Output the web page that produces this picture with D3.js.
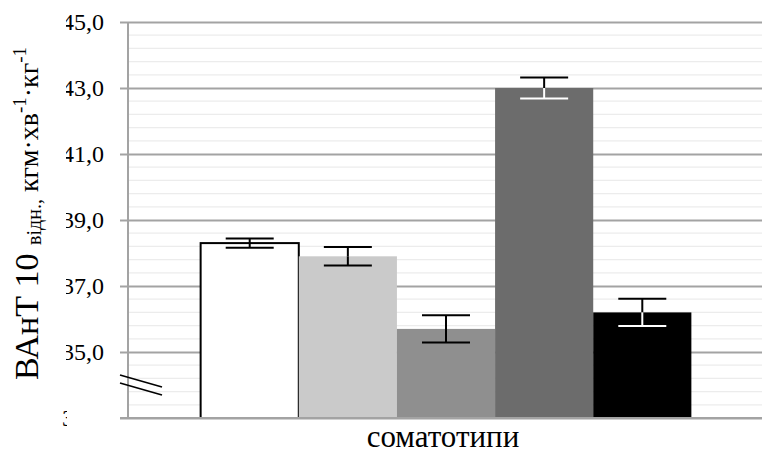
<!DOCTYPE html>
<html>
<head>
<meta charset="utf-8">
<script src="https://cdn.jsdelivr.net/npm/d3@7"></script>
<style>
  html, body { margin: 0; padding: 0; background: #fff; }
  svg { display: block; }
</style>
</head>
<body>
<svg id="chart" width="762" height="450"></svg>
<script>
// Category and series
const categories = ["соматотипи"];
const groups = ["I", "II", "III", "IV", "V"];
// Mean values and their errors (кгм·хв⁻¹·кг⁻¹)
const values = [38.3, 37.9, 35.7, 43.0, 36.2];
const errors = [0.14, 0.28, 0.41, 0.32, 0.41];
// Y axis
const yDomain = [33, 45];
const majorTicks = [33, 35, 37, 39, 41, 43, 45];

// Bar styles
const barFills = ["#ffffff", "#cacaca", "#8f8f8f", "#6c6c6c", "#000000"];

const W = 762, H = 450;
const margin = { top: 22, right: -2, bottom: 32, left: 128 };
const svg = d3.select("#chart");
const gridColor = "#a3a3a3";
const serif = "'Liberation Serif', 'Times New Roman', serif";

const y = d3.scaleLinear().domain(yDomain).range([H - margin.bottom, margin.top]);
const x0 = d3.scaleBand().domain(categories).range([margin.left, W - margin.right]);
const x1 = d3.scaleBand().domain(groups).range([0, x0.bandwidth()])
  .paddingInner(0).paddingOuter(0.74);

// Minor grid every 0.4
const minorTicks = d3.range(yDomain[0], yDomain[1] + 1e-9, 0.4)
  .filter(v => !majorTicks.some(m => Math.abs(m - v) < 1e-6));
svg.append("g").selectAll("line").data(minorTicks).join("line")
  .attr("x1", margin.left).attr("x2", W - margin.right)
  .attr("y1", d => y(d)).attr("y2", d => y(d))
  .attr("stroke", "#ececec").attr("stroke-width", 1.2);

// Major grid with left ticks
const fmt = d3.formatLocale({ decimal: ",", thousands: " ", grouping: [3], currency: ["", ""] }).format(".1f");
const yAxis = d3.axisLeft(y).tickValues(majorTicks)
  .tickSize(-(W - margin.right - margin.left)).tickPadding(0).tickFormat(fmt);
const gy = svg.append("g").attr("transform", `translate(${margin.left},0)`).call(yAxis);
gy.select(".domain").remove();
gy.selectAll(".tick line").attr("stroke", gridColor).attr("stroke-width", 2)
  .attr("x1", -8);
gy.selectAll(".tick text").remove();

// Vertical axis line
svg.append("line")
  .attr("x1", margin.left).attr("x2", margin.left)
  .attr("y1", y(yDomain[1])).attr("y2", y(yDomain[0]))
  .attr("stroke", gridColor).attr("stroke-width", 2);

// Tick labels (the lowest one is hidden behind the axis break)
const defs = svg.append("defs");
defs.append("clipPath").attr("id", "clipLabels")
  .append("rect").attr("x", 66).attr("y", 0).attr("width", 60).attr("height", H);
defs.append("clipPath").attr("id", "clipLow")
  .append("rect").attr("x", 0).attr("y", 0).attr("width", 67).attr("height", H);
svg.append("g").selectAll("text").data(majorTicks).join("text")
  .attr("clip-path", d => d === yDomain[0] ? "url(#clipLow)" : "url(#clipLabels)")
  .attr("x", 104).attr("y", d => y(d)).attr("dy", "0.35em")
  .attr("text-anchor", "end")
  .attr("font-family", serif).attr("font-size", 24).attr("fill", "#000")
  .text(d => fmt(d));

// Bars
const bars = groups.map((g, i) => ({ g, v: values[i], e: errors[i], fill: barFills[i] }));
const gBars = svg.append("g").attr("transform", `translate(${x0(categories[0])},0)`);
gBars.selectAll("rect").data(bars).join("rect")
  .attr("x", d => x1(d.g)).attr("width", x1.bandwidth())
  .attr("y", d => y(d.v)).attr("height", d => y(yDomain[0]) - y(d.v))
  .attr("fill", d => d.fill)
  .attr("stroke", d => d.fill === "#ffffff" ? "#000" : "none")
  .attr("stroke-width", 2);

// Bottom axis line
svg.append("line")
  .attr("x1", margin.left - 8).attr("x2", W - margin.right)
  .attr("y1", y(yDomain[0])).attr("y2", y(yDomain[0]))
  .attr("stroke", gridColor).attr("stroke-width", 2);

// Error bars: the part inside a dark bar is drawn in white
const capW = 48;
const eb = gBars.selectAll("g.err").data(bars).join("g").attr("class", "err")
  .attr("transform", d => `translate(${x1(d.g) + x1.bandwidth() / 2},0)`);
const inner = d => d3.hsl(d.fill).l < 0.5 ? "#fff" : "#000";
eb.append("line").attr("x1", 0).attr("x2", 0)
  .attr("y1", d => y(d.v + d.e)).attr("y2", d => y(d.v))
  .attr("stroke", "#000").attr("stroke-width", 2);
eb.append("line").attr("x1", -capW / 2).attr("x2", capW / 2)
  .attr("y1", d => y(d.v + d.e)).attr("y2", d => y(d.v + d.e))
  .attr("stroke", "#000").attr("stroke-width", 2);
eb.append("line").attr("x1", 0).attr("x2", 0)
  .attr("y1", d => y(d.v)).attr("y2", d => y(d.v - d.e))
  .attr("stroke", inner).attr("stroke-width", 2);
eb.append("line").attr("x1", -capW / 2).attr("x2", capW / 2)
  .attr("y1", d => y(d.v - d.e)).attr("y2", d => y(d.v - d.e))
  .attr("stroke", inner).attr("stroke-width", 2);

// Axis break marks
const brk = svg.append("g").attr("stroke", "#000").attr("stroke-width", 1.6);
[0, 8].forEach(off => {
  brk.append("line").attr("x1", 120).attr("y1", 375 + off).attr("x2", 162).attr("y2", 387 + off);
});

// Category label
svg.append("text")
  .attr("x", x0(categories[0]) + x0.bandwidth() / 2 - 3).attr("y", 447)
  .attr("text-anchor", "middle")
  .attr("font-family", serif).attr("font-size", 31).attr("fill", "#000")
  .text(categories[0]);

// Y axis title
const title = svg.append("text")
  .attr("transform", "translate(38,380) rotate(-90)")
  .attr("text-anchor", "start")
  .attr("font-family", serif).attr("fill", "#000");
title.append("tspan").attr("font-size", 34).text("ВАнТ 10 ");
title.append("tspan").attr("font-size", 20).attr("dy", 3).text("відн.,");
title.append("tspan").attr("font-size", 28).attr("dy", -3).text(" кгм·хв");
title.append("tspan").attr("font-size", 19).attr("dy", -12).text("-1");
title.append("tspan").attr("font-size", 28).attr("dy", 12).text("·кг");
title.append("tspan").attr("font-size", 19).attr("dy", -12).text("-1");
</script>
</body>
</html>
